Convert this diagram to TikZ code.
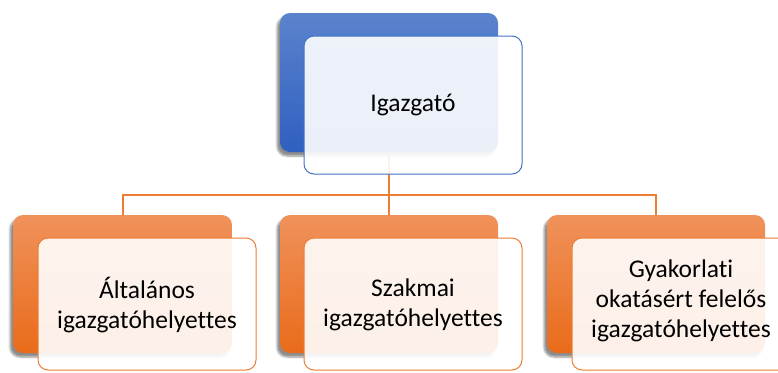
\documentclass[tikz,border=0pt]{standalone}
\usepackage{fontspec}
\setmainfont{Carlito}[Ligatures=NoCommon]
\usetikzlibrary{shadows.blur}
\definecolor{bluetop}{HTML}{5B83CD}
\definecolor{bluebot}{HTML}{2F5FC0}
\definecolor{blueline}{HTML}{4472C4}
\definecolor{orgtop}{HTML}{F0925B}
\definecolor{orgbot}{HTML}{E96B1A}
\definecolor{orgline}{HTML}{ED7D31}
\tikzset{
  backblue/.style={rounded corners=10pt, top color=bluetop, bottom color=bluebot, draw=none,
    blur shadow={shadow xshift=-3pt, shadow yshift=-4pt, shadow blur steps=6, shadow opacity=45}},
  backorg/.style={rounded corners=10pt, top color=orgtop, bottom color=orgbot, draw=none,
    blur shadow={shadow xshift=-3pt, shadow yshift=-4pt, shadow blur steps=6, shadow opacity=45}},
  frontblue/.style={rounded corners=10pt, fill=white, fill opacity=0.9, draw=blueline, draw opacity=1, line width=1pt},
  frontorg/.style={rounded corners=10pt, fill=white, fill opacity=0.9, draw=orgline, draw opacity=1, line width=1pt},
  conn/.style={draw=orgline, line width=2pt},
  lbl/.style={font=\fontsize{25.5}{30}\selectfont, align=center, text=black, inner sep=0pt}
}
\begin{document}
\begin{tikzpicture}[x=1pt,y=-1pt]
\useasboundingbox (0,0) rectangle (778,372);
\clip (0,0) rectangle (778,372);
% back boxes
\path[backblue] (280,13) rectangle (498,152);
\coordinate (topb) at (389,152);
\path[backorg] (13,215) rectangle (232,353);
\path[backorg] (280,215) rectangle (498,353);
\path[backorg] (547,215) rectangle (765,353);
\coordinate (la) at (122.5,215);
\coordinate (ma) at (389,215);
\coordinate (ra) at (656,215);
\coordinate (hub) at (389,195);
% connectors
\draw[conn] (topb) -- (hub);
\draw[conn] (la) |- (hub) -| (ra);
\draw[conn] (hub) -- (ma);
% front boxes
\path[frontblue] (304,36) rectangle (522,174);
\path[frontorg] (38,238) rectangle (256,370);
\path[frontorg] (304,238) rectangle (522,370);
\path[frontorg] (572,238) rectangle (790,370);
% labels
\node[lbl] (t) at (413,105) {Igazgató};
\node[lbl] (l) at (147,305) {Általános\\igazgatóhelyettes};
\node[lbl] (m) at (413,305) {Szakmai\\igazgatóhelyettes};
\node[lbl] (r) at (681,301) {Gyakorlati\\okatásért felelős\\igazgatóhelyettes};
\end{tikzpicture}
\end{document}
